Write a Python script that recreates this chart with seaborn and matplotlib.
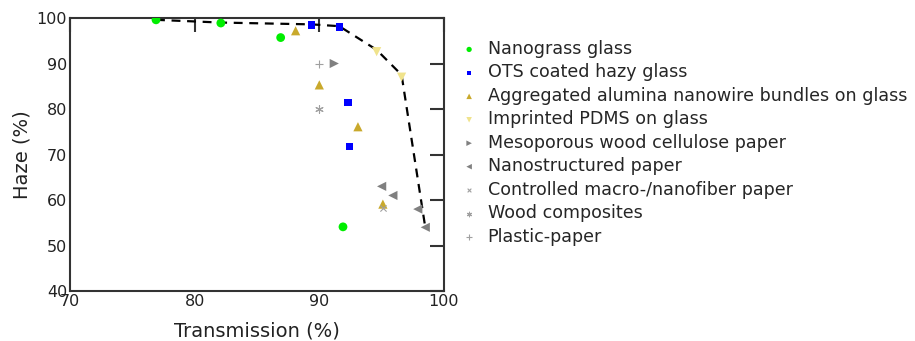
import matplotlib
matplotlib.use("Agg")
import matplotlib.pyplot as plt
import seaborn as sns
import pandas as pd

# data
series_names = [
    "Nanograss glass",
    "OTS coated hazy glass",
    "Aggregated alumina nanowire bundles on glass",
    "Imprinted PDMS on glass",
    "Mesoporous wood cellulose paper",
    "Nanostructured paper",
    "Controlled macro-/nanofiber paper",
    "Wood composites",
    "Plastic-paper",
]
nanograss_t = [76.9, 82.1, 86.9, 91.9]
nanograss_h = [99.6, 98.9, 95.7, 54.1]
ots_t = [89.4, 91.6, 92.3, 92.4]
ots_h = [98.5, 98.0, 81.4, 71.8]
alumina_t = [88.1, 90.0, 93.1, 95.1]
alumina_h = [97.2, 85.3, 76.1, 59.1]
pdms_t = [94.6, 96.6]
pdms_h = [92.6, 87.0]
meso_t = [91.2]
meso_h = [90.0]
nanopaper_t = [95.0, 95.9, 97.9, 98.5]
nanopaper_h = [63.0, 61.0, 58.0, 54.0]
macro_t = [95.1]
macro_h = [58.2]
woodcomp_t = [90.0]
woodcomp_h = [80.0]
plastic_t = [90.0]
plastic_h = [90.0]

# dashed envelope
front_t = [76.9, 82.1, 89.4, 91.6, 94.6, 96.6, 98.5]
front_h = [99.6, 99.0, 98.6, 98.2, 93.0, 87.5, 54.0]

series_t = [nanograss_t, ots_t, alumina_t, pdms_t, meso_t, nanopaper_t, macro_t, woodcomp_t, plastic_t]
series_h = [nanograss_h, ots_h, alumina_h, pdms_h, meso_h, nanopaper_h, macro_h, woodcomp_h, plastic_h]
colors = ["#00ee00", "#0000ff", "#c9a92c", "#f0e38c", "#808080", "#808080", "#a0a0a0", "#a0a0a0", "#a0a0a0"]
markers = ["o", "s", "^", "v", ">", "<", "x", (6, 2, 0), "+"]
sizes = [40, 28, 44, 44, 44, 44, 20, 30, 40]

sns.set_style("white")
plt.rcParams["font.family"] = ["DejaVu Sans"]

fig = plt.figure(figsize=(9.15, 3.41), dpi=100)
ax = fig.add_axes([0.0765, 0.1466, 0.4087, 0.8006])

sns.lineplot(x=front_t, y=front_h, sort=False, ax=ax, color="black",
             linestyle=(0, (4, 3)), linewidth=1.6, zorder=1)

for name, t, h, c, m, s in zip(series_names, series_t, series_h, colors, markers, sizes):
    df = pd.DataFrame({"t": t, "h": h})
    if m in ["x", "+", (6, 2, 0)]:
        sns.scatterplot(data=df, x="t", y="h", ax=ax, color=c, marker=m, s=s,
                        linewidth=0.8, label=name, zorder=3)
    else:
        sns.scatterplot(data=df, x="t", y="h", ax=ax, color=c, marker=m, s=s,
                        edgecolor="none", label=name, zorder=3)

ax.set_xlim(70, 100)
ax.set_ylim(40, 100)
ax.set_xticks([70, 80, 90, 100])
ax.set_yticks([40, 50, 60, 70, 80, 90, 100])
ax.set_xlabel("Transmission (%)", fontsize=14, color="#222222", labelpad=9)
ax.set_ylabel("Haze (%)", fontsize=14, color="#222222", labelpad=4)
ax.tick_params(direction="in", length=10, width=1.5, labelsize=11.5, pad=2,
               top=True, right=True, colors="#333333", labelcolor="#222222")
for sp in ax.spines.values():
    sp.set_linewidth(1.5)
    sp.set_color("#333333")

ax.legend(loc="upper left", bbox_to_anchor=(1.025, 0.945), frameon=False,
          fontsize=12.65, markerscale=0.6, handletextpad=0.55,
          labelspacing=0.31, handlelength=1.0, borderaxespad=0)

fig.savefig("out.png", dpi=100)
